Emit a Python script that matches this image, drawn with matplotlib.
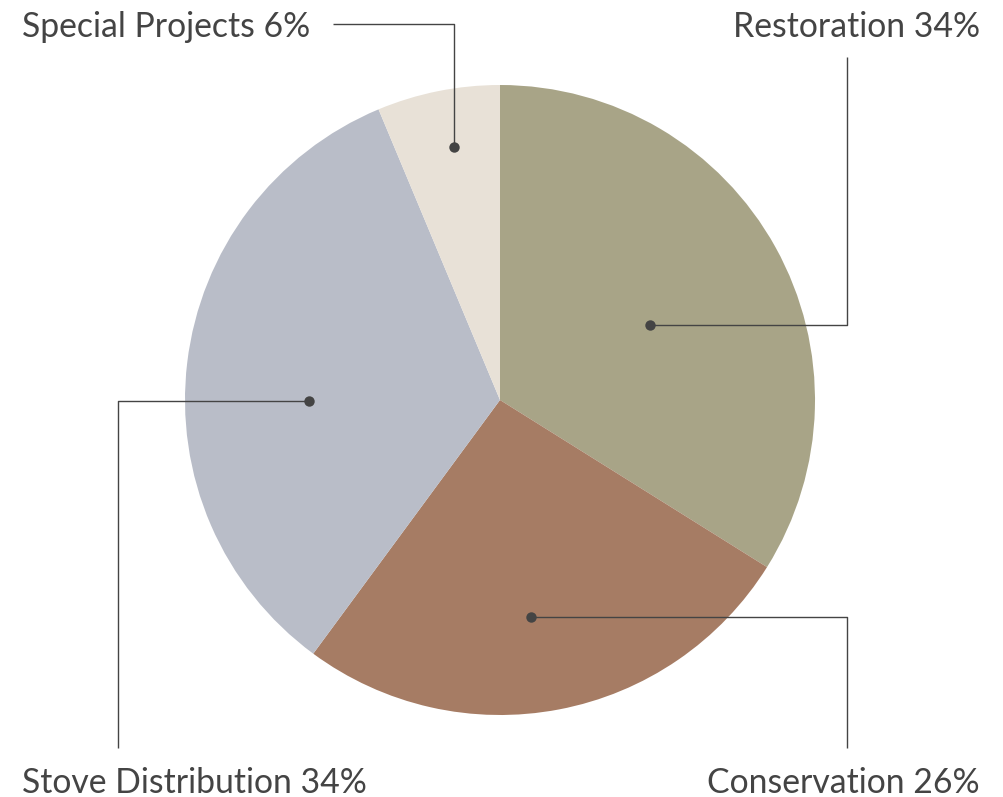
import matplotlib
matplotlib.use("Agg")
import matplotlib.pyplot as plt
import numpy as np

categories = ["Restoration", "Conservation", "Stove Distribution", "Special Projects"]
values = [33.9, 26.2, 33.6, 6.3]
colors = ["#A8A487", "#A67C64", "#B9BDC8", "#E8E1D7"]

W, H = 1004, 797
fig = plt.figure(figsize=(W / 100, H / 100), dpi=100)
ax = fig.add_axes([0, 0, 1, 1])
ax.set_xlim(0, W)
ax.set_ylim(0, H)
ax.set_aspect("equal")
ax.axis("off")

cx, cy, R = 500, H - 400, 315
ax.pie(values, colors=colors, startangle=90, counterclock=False,
       center=(cx, cy), radius=R, frame=True,
       wedgeprops=dict(linewidth=0))
ax.set_xlim(0, W)
ax.set_ylim(0, H)
ax.axis("off")

FONT = ["Lato", "DejaVu Sans"]
txt_color = "#444444"
line_color = "#444444"
fs = 24.3

# layout: anchor (fraction of radius from center)
anchors = [(0.476, 0.238), (0.098, -0.689), (-0.606, -0.003), (-0.146, 0.803)]
total = sum(values)
labels = [f"{c} {round(v / total * 100):d}%" for c, v in zip(categories, values)]

def px(y):
    return H - y

paths = []
ax_, ay_ = cx + anchors[0][0] * R, cy + anchors[0][1] * R
paths.append(([ax_, 847, 847], [ay_, ay_, px(57)]))
ax_, ay_ = cx + anchors[1][0] * R, cy + anchors[1][1] * R
paths.append(([ax_, 847, 847], [ay_, ay_, px(748)]))
ax_, ay_ = cx + anchors[2][0] * R, cy + anchors[2][1] * R
paths.append(([ax_, 118, 118], [ay_, ay_, px(748)]))
ax_, ay_ = cx + anchors[3][0] * R, cy + anchors[3][1] * R
paths.append(([ax_, ax_, 333], [ay_, px(24), px(24)]))

for (xs, ys) in paths:
    ax.plot(xs, ys, color=line_color, lw=1.0, solid_capstyle="butt", zorder=3)
    ax.plot(xs[0], ys[0], "o", color=line_color, ms=7.5, mec="none", zorder=4)

label_pos = [(980, px(37), "right"), (980, px(793), "right"),
             (22, px(793), "left"), (22, px(37), "left")]
for lab, (x, y, ha) in zip(labels, label_pos):
    ax.text(x, y, lab, ha=ha, va="baseline", fontsize=fs, color=txt_color,
            family=FONT)

fig.savefig("out.png", dpi=100)
